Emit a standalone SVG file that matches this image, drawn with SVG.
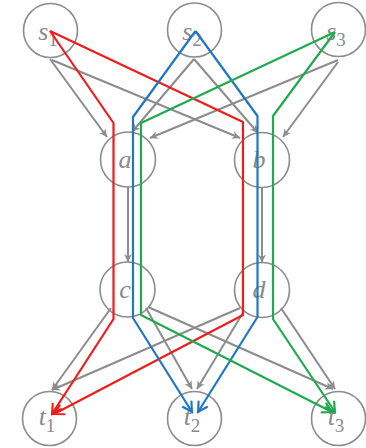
<svg xmlns="http://www.w3.org/2000/svg" width="366" height="448" viewBox="0 0 366 448">
<style>
.node circle{fill:none;stroke:#8c8c8c;stroke-width:1.6}
.lbl{font-family:"Liberation Serif","DejaVu Serif",serif;font-style:italic;font-size:26px;fill:#8a8a8a;text-anchor:middle}
.sub{font-style:normal;font-size:19px}
.g{fill:none;stroke:#8c8c8c;stroke-width:2;marker-end:url(#ag)}
.r{fill:none;stroke:#f01c1c;stroke-width:2.2;stroke-linejoin:round;marker-end:url(#ar)}
.b{fill:none;stroke:#2277c4;stroke-width:2.2;stroke-linejoin:round;marker-end:url(#ab)}
.gr{fill:none;stroke:#1eab50;stroke-width:2.2;stroke-linejoin:round;marker-end:url(#agr)}
</style>
<defs>
<marker id="ag" viewBox="-10 -6 12 12" refX="0" refY="0" markerWidth="12" markerHeight="12" markerUnits="userSpaceOnUse" orient="auto">
<path d="M0,0 L-8,-4 L-5.5,0 L-8,4 Z" fill="#8c8c8c"/>
</marker>
<marker id="ar" viewBox="-11 -7 13 14" refX="0" refY="0" markerWidth="13" markerHeight="14" markerUnits="userSpaceOnUse" orient="auto">
<path d="M-9,-5 Q-3,-1.5 0,0 Q-3,1.5 -9,5" fill="none" stroke="#f01c1c" stroke-width="2.2" stroke-linecap="round"/>
</marker>
<marker id="ab" viewBox="-11 -7 13 14" refX="0" refY="0" markerWidth="13" markerHeight="14" markerUnits="userSpaceOnUse" orient="auto">
<path d="M-9,-5 Q-3,-1.5 0,0 Q-3,1.5 -9,5" fill="none" stroke="#2277c4" stroke-width="2.2" stroke-linecap="round"/>
</marker>
<marker id="agr" viewBox="-11 -7 13 14" refX="0" refY="0" markerWidth="13" markerHeight="14" markerUnits="userSpaceOnUse" orient="auto">
<path d="M-9,-5 Q-3,-1.5 0,0 Q-3,1.5 -9,5" fill="none" stroke="#1eab50" stroke-width="2.2" stroke-linecap="round"/>
</marker>
</defs>
<rect width="366" height="448" fill="#ffffff"/>
<g id="s1" class="node"><circle cx="50.5" cy="30.5" r="27"/><text class="lbl" x="48" y="40">s<tspan class="sub" dy="6">1</tspan></text></g>
<g id="s2" class="node"><circle cx="194.5" cy="30" r="27"/><text class="lbl" x="192" y="40">s<tspan class="sub" dy="6">2</tspan></text></g>
<g id="s3" class="node"><circle cx="338.5" cy="29.5" r="27"/><text class="lbl" x="336" y="40">s<tspan class="sub" dy="6">3</tspan></text></g>
<g id="a" class="node"><circle cx="128" cy="159.5" r="27.5"/><text class="lbl" x="125" y="168">a</text></g>
<g id="b" class="node"><circle cx="262" cy="160" r="27.5"/><text class="lbl" x="259" y="168">b</text></g>
<g id="c" class="node"><circle cx="127.5" cy="289.5" r="27.5"/><text class="lbl" x="125" y="298">c</text></g>
<g id="d" class="node"><circle cx="262" cy="290" r="27.5"/><text class="lbl" x="259" y="298">d</text></g>
<g id="t1" class="node"><circle cx="49.5" cy="418.5" r="27"/><text class="lbl" x="47" y="425">t<tspan class="sub" dy="7">1</tspan></text></g>
<g id="t2" class="node"><circle cx="194.5" cy="418.5" r="27"/><text class="lbl" x="192" y="425">t<tspan class="sub" dy="7">2</tspan></text></g>
<g id="t3" class="node"><circle cx="338.5" cy="418.5" r="27"/><text class="lbl" x="336" y="425">t<tspan class="sub" dy="7">3</tspan></text></g>
<g id="connectors">
<line class="g" x1="50" y1="59" x2="107" y2="137"/>
<line class="g" x1="52" y1="60" x2="240" y2="138"/>
<line class="g" x1="194" y1="59" x2="132" y2="132"/>
<line class="g" x1="194" y1="59" x2="258" y2="133"/>
<line class="g" x1="338" y1="60" x2="150" y2="138"/>
<line class="g" x1="338" y1="62" x2="283" y2="137"/>
<line class="g" x1="128" y1="187" x2="128" y2="262"/>
<line class="g" x1="262" y1="187.5" x2="262" y2="262.5"/>
<line class="g" x1="111" y1="308" x2="52" y2="390"/>
<line class="g" x1="240" y1="308" x2="52" y2="390"/>
<line class="g" x1="146" y1="308" x2="192" y2="389"/>
<line class="g" x1="244" y1="311" x2="197" y2="389"/>
<line class="g" x1="148" y1="307" x2="333" y2="389"/>
<line class="g" x1="281" y1="308" x2="335" y2="389"/>
<polyline class="r" points="50,31 113.5,123 113.5,319 52,414"/>
<polyline class="r" points="50,31 243,122 243,315 54,414"/>
<polyline class="b" points="195.5,31 133,117 133,318 192,412"/>
<polyline class="b" points="195.5,31 257.5,116 257.5,317 198,412"/>
<polyline class="gr" points="335,32 141,123 141,315 332,412"/>
<polyline class="gr" points="335,32 273,116 273,319 335,412"/>
</g>
</svg>
